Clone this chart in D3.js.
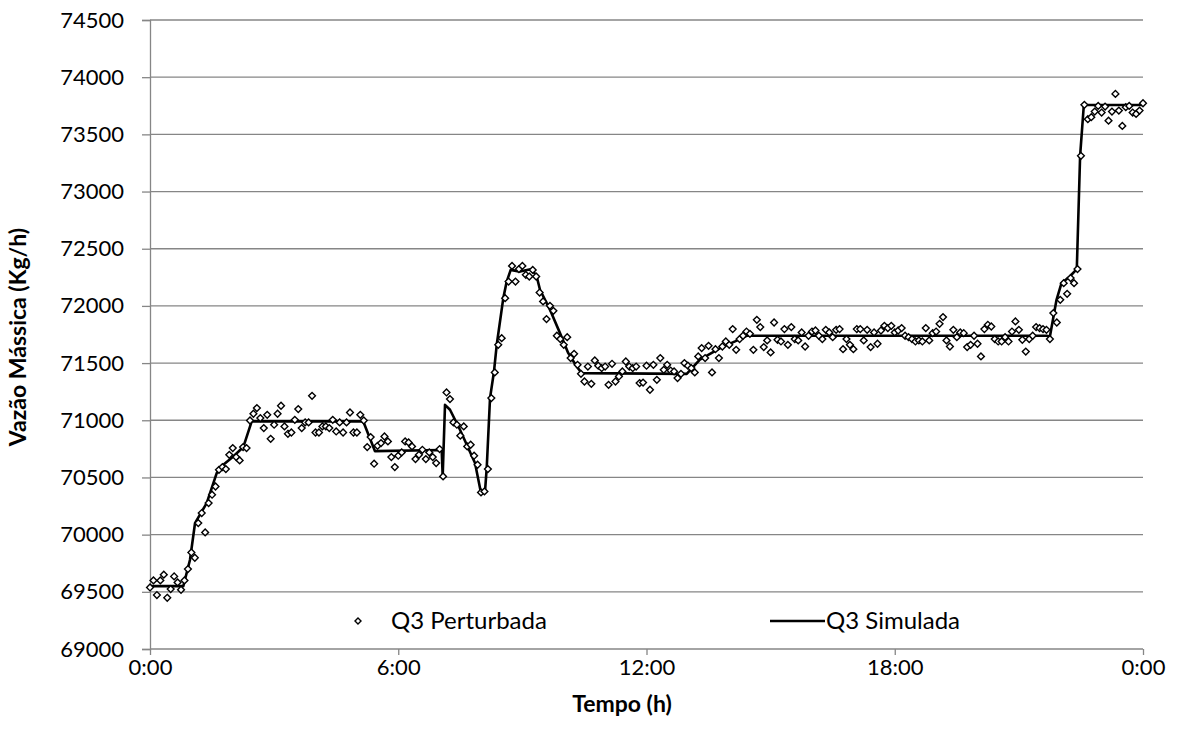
<!DOCTYPE html>
<html>
<head>
<meta charset="utf-8">
<script src="https://cdn.jsdelivr.net/npm/d3@7"></script>
<style>
  html, body { margin: 0; padding: 0; background: #fff; }
  svg { display: block; font-family: Lato, "Open Sans", sans-serif; }
</style>
</head>
<body>
<svg id="chart" width="1177" height="752"></svg>
<script>
// Q3 mass flow over one day, sampled every 5 minutes (index i -> i/12 h)
const perturbedValues = [
  69538, 69600, 69472, 69600, 69650, 69448, 69524, 69635, 69582, 69518,
  69600, 69699, 69844, 69798, 70101, 70189, 70019, 70276, 70349, 70421,
  70567, 70591, 70573, 70698, 70757, 70678, 70649, 70766, 70757, 70998,
  71057, 71107, 71019, 70932, 71048, 70838, 70961, 71057, 71127, 70946,
  70882, 70893, 71004, 71098, 70932, 70981, 70981, 71214, 70893, 70893,
  70946, 70946, 70932, 71004, 70902, 70981, 70893, 70981, 71068, 70893,
  70893, 71048, 70998, 70766, 70853, 70620, 70777, 70801, 70858, 70815,
  70678, 70591, 70690, 70719, 70815, 70806, 70771, 70661, 70698, 70742,
  70661, 70719, 70678, 70626, 70748, 70509, 71243, 71185, 70981, 70961,
  70865, 70946, 70771, 70786, 70690, 70611, 70369, 70378, 70573, 71194,
  71418, 71660, 71718, 72068, 72213, 72350, 72213, 72322, 72350, 72272,
  72257, 72315, 72257, 72117, 72039, 71885, 72001, 71957, 71739, 71710,
  71660, 71727, 71544, 71581, 71485, 71406, 71339, 71470, 71319, 71523,
  71477, 71456, 71470, 71310, 71494, 71339, 71383, 71427, 71514, 71470,
  71456, 71470, 71325, 71330, 71477, 71267, 71485, 71354, 71544, 71441,
  71485, 71435, 71427, 71369, 71406, 71500, 71477, 71456, 71418, 71558,
  71631, 71544, 71651, 71418, 71622, 71544, 71645, 71689, 71660, 71797,
  71616, 71710, 71739, 71776, 71756, 71616, 71878, 71815, 71640, 71698,
  71593, 71855, 71704, 71689, 71797, 71660, 71815, 71710, 71698, 71768,
  71645, 71739, 71776, 71785, 71739, 71710, 71791, 71768, 71727, 71791,
  71797, 71622, 71710, 71660, 71622, 71797, 71797, 71698, 71791, 71640,
  71768, 71669, 71785, 71826, 71806, 71826, 71768, 71785, 71806, 71739,
  71727, 71710, 71689, 71698, 71689, 71806, 71698, 71762, 71776, 71843,
  71902, 71698, 71645, 71791, 71727, 71768, 71762, 71640, 71660, 71739,
  71669, 71558, 71797, 71835, 71820, 71710, 71689, 71689, 71727, 71689,
  71776, 71864, 71791, 71704, 71601, 71710, 71739, 71815, 71806, 71797,
  71791, 71710, 71937, 71855, 72053, 72199, 72106, 72243, 72199, 72322,
  73312, 73758, 73633, 73650, 73699, 73749, 73691, 73743, 73620, 73699,
  73854, 73708, 73574, 73738, 73749, 73691, 73679, 73708, 73772
];

// Simulated response: vertices (hours, kg/h)
const simulatedHours = [
  0, 0.805, 0.967, 1.088, 1.370, 1.612, 1.772, 2.013, 2.255, 2.458,
  5.155, 5.438, 7.050, 7.074, 7.130, 7.251, 7.492, 7.855, 7.993, 8.097,
  8.138, 8.218, 8.314, 8.380, 8.539, 8.621, 8.718, 8.943, 9.225, 9.346,
  9.426, 9.668, 9.909, 10.110, 10.313, 10.434, 12.972, 13.290, 13.780, 14.140,
  14.420, 21.670, 21.750, 21.910, 22.030, 22.230, 22.400, 22.480, 22.570, 24
];
const simulatedValues = [
  69550, 69550, 69780, 70100, 70276, 70538, 70611, 70683, 70766, 70990,
  70990, 70730, 70740, 70509, 71135, 71092, 70917, 70626, 70378, 70378,
  70582, 71194, 71427, 71660, 72068, 72213, 72315, 72300, 72322, 72257,
  72141, 71966, 71762, 71587, 71470, 71412, 71406, 71530, 71631, 71690,
  71739, 71739, 71733, 72053, 72199, 72257, 72322, 73312, 73757, 73757
];

const yTicks = d3.range(69000, 74501, 500);
const xTicks = [0, 6, 12, 18, 24];
const xTickLabels = ["0:00", "6:00", "12:00", "18:00", "0:00"];
const seriesNames = ["Q3 Perturbada", "Q3 Simulada"];
const axisTitles = { x: "Tempo (h)", y: "Vazão Mássica (Kg/h)" };

const plot = { left: 150, right: 1143, top: 20, bottom: 649 };
const gridColor = "#868686";
const tickFont = 22, legendFont = 24, titleFont = 23;

const svg = d3.select("#chart");
const x = d3.scaleLinear().domain([0, 24]).range([plot.left, plot.right]);
const y = d3.scaleLinear().domain([69000, 74500]).range([plot.bottom, plot.top]);

// horizontal gridlines
svg.append("g")
  .selectAll("line")
  .data(yTicks.filter(v => v > 69000))
  .join("line")
  .attr("x1", plot.left).attr("x2", plot.right)
  .attr("y1", d => y(d)).attr("y2", d => y(d))
  .attr("stroke", gridColor).attr("stroke-width", 1.3);

// y axis
const yAxis = svg.append("g")
  .attr("transform", `translate(${plot.left},0)`)
  .call(d3.axisLeft(y).tickValues(yTicks).tickSize(8).tickPadding(18).tickFormat(d3.format("d")));
yAxis.select(".domain").attr("stroke", gridColor).attr("stroke-width", 1.3);
yAxis.selectAll(".tick line").attr("stroke", gridColor).attr("stroke-width", 1.3);
yAxis.selectAll(".tick text").attr("font-size", tickFont).attr("fill", "#000").attr("font-family", "Lato");

// x axis
const xAxis = svg.append("g")
  .attr("transform", `translate(0,${plot.bottom})`)
  .call(d3.axisBottom(x).tickValues(xTicks).tickSize(6).tickPadding(4)
    .tickFormat((d, i) => xTickLabels[i]));
xAxis.select(".domain").attr("stroke", gridColor).attr("stroke-width", 1.3)
  .attr("d", `M${plot.left},0H${plot.right}`);
xAxis.selectAll(".tick line").attr("stroke", gridColor).attr("stroke-width", 1.3);
xAxis.selectAll(".tick text").attr("font-size", tickFont).attr("fill", "#000").attr("font-family", "Lato");

// simulated line
const simPoints = simulatedHours.map((h, i) => [h, simulatedValues[i]]);
svg.append("path")
  .datum(simPoints)
  .attr("fill", "none")
  .attr("stroke", "#000")
  .attr("stroke-width", 2.6)
  .attr("stroke-linejoin", "round")
  .attr("d", d3.line().x(d => x(d[0])).y(d => y(d[1])));

// perturbed samples as hollow diamonds
const diamond = r => `M0,${-r}L${r},0L0,${r}L${-r},0Z`;
svg.append("g")
  .selectAll("path")
  .data(perturbedValues)
  .join("path")
  .attr("transform", (d, i) => `translate(${x(i / 12)},${y(d)})`)
  .attr("d", diamond(3.4))
  .attr("fill", "#fff")
  .attr("stroke", "#000")
  .attr("stroke-width", 1.4);

// legend
const legend = svg.append("g").attr("font-size", legendFont).attr("font-family", "Lato");
const ly = 621;
legend.append("path")
  .attr("transform", `translate(358,${ly})`)
  .attr("d", diamond(3))
  .attr("fill", "#fff").attr("stroke", "#000").attr("stroke-width", 1.4);
legend.append("text").attr("x", 391).attr("y", ly).attr("dy", "0.35em").text(seriesNames[0]);
legend.append("line")
  .attr("x1", 770).attr("x2", 825).attr("y1", ly).attr("y2", ly)
  .attr("stroke", "#000").attr("stroke-width", 2.6);
legend.append("text").attr("x", 826).attr("y", ly).attr("dy", "0.35em").text(seriesNames[1]);

// axis titles
svg.append("text")
  .attr("x", 622).attr("y", 704).attr("dy", "0.35em")
  .attr("text-anchor", "middle").attr("font-weight", "bold").attr("font-size", titleFont)
  .text(axisTitles.x);
svg.append("text")
  .attr("transform", `translate(18,337) rotate(-90)`)
  .attr("dy", "0.35em")
  .attr("text-anchor", "middle").attr("font-weight", "bold").attr("font-size", titleFont)
  .text(axisTitles.y);
</script>
</body>
</html>
